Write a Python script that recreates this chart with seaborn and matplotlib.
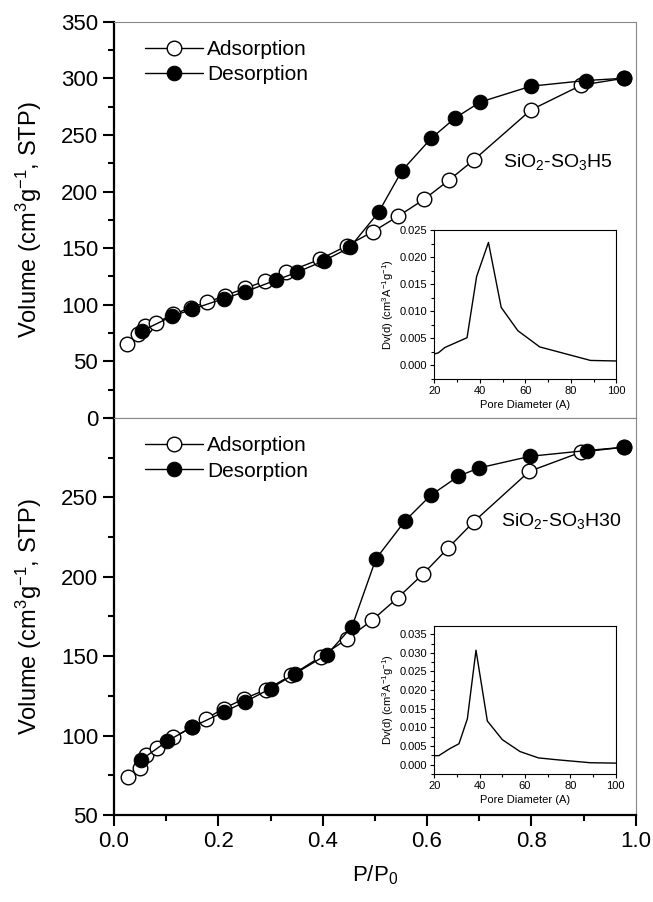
import numpy as np
import matplotlib
matplotlib.use("Agg")
import matplotlib.pyplot as plt
import seaborn as sns
from matplotlib.ticker import MultipleLocator

# %% data ---------------------------------------------------------------
# SiO2-SO3H5 isotherm
ads5_p = [0.024, 0.046, 0.059, 0.080, 0.114, 0.147, 0.178, 0.212, 0.252, 0.290,
          0.330, 0.394, 0.446, 0.496, 0.544, 0.594, 0.642, 0.690, 0.799, 0.896, 0.978]
ads5_v = [65, 74, 81, 84, 91.5, 97.5, 102, 108, 114.6, 121,
          128.5, 140, 152, 164.5, 178, 193, 210, 228, 272, 294, 300]
des5_p = [0.054, 0.112, 0.150, 0.210, 0.252, 0.310, 0.350, 0.402, 0.452,
          0.507, 0.552, 0.608, 0.654, 0.702, 0.799, 0.904, 0.978]
des5_v = [77, 90, 96, 105.4, 111.6, 121.7, 128.5, 138.8, 150.6,
          181.6, 218.5, 247, 265, 279, 293, 298, 300]

# SiO2-SO3H30 isotherm
ads30_p = [0.027, 0.050, 0.062, 0.082, 0.114, 0.150, 0.176, 0.210, 0.250, 0.292,
           0.340, 0.396, 0.446, 0.495, 0.544, 0.592, 0.640, 0.690, 0.796, 0.896, 0.978]
ads30_v = [73.8, 79.5, 87.5, 92, 99, 105.4, 110.6, 117, 123.3, 129,
           138, 149.6, 160.7, 172.7, 186.8, 201.6, 218, 234.8, 266.4, 278.6, 281.6]
des30_p = [0.052, 0.102, 0.150, 0.210, 0.251, 0.300, 0.347, 0.408, 0.456,
           0.502, 0.558, 0.607, 0.660, 0.699, 0.798, 0.906, 0.978]
des30_v = [84.7, 96.5, 105.4, 114.8, 121.2, 129.6, 139, 151, 168.5,
           211.3, 235.3, 251.3, 263.3, 268.5, 275.9, 279.5, 281.6]

# pore size distributions (insets)
pd5_d = [20, 21.8, 24.7, 34.4, 38.6, 43.8, 49.4, 56.7, 66.3, 77, 88.6, 100]
pd5_v = [0.0021, 0.0023, 0.0033, 0.0051, 0.0164, 0.0227, 0.0107, 0.0064, 0.0034,
         0.0022, 0.0009, 0.0008]
pd30_d = [20, 22, 26.9, 30.9, 34.6, 38.4, 43.4, 50, 57.8, 65.9, 74, 88.8, 100]
pd30_v = [0.0024, 0.0024, 0.0043, 0.0056, 0.0123, 0.0307, 0.0117, 0.0067, 0.0035,
          0.0018, 0.0013, 0.0005, 0.0004]

# %% style --------------------------------------------------------------
sns.set_style("ticks", {'axes.edgecolor': 'black', 'text.color': 'black',
                        'axes.labelcolor': 'black', 'xtick.color': 'black',
                        'ytick.color': 'black'})
plt.rcParams['font.family'] = ['Liberation Sans', 'DejaVu Sans']
plt.rcParams['mathtext.fontset'] = 'custom'
plt.rcParams['mathtext.rm'] = 'Liberation Sans'
plt.rcParams['mathtext.it'] = 'Liberation Sans'

fig = plt.figure(figsize=(6.53, 9.02), dpi=100)
ax_top = fig.add_axes([0.1746, 0.5366, 0.799, 0.4394])
ax_bot = fig.add_axes([0.1746, 0.0965, 0.799, 0.4401])


def draw_main(ax, ap, av, dp, dv):
    sns.lineplot(x=ap, y=av, ax=ax, color='black', lw=1, marker='o', markersize=10.5,
                 markerfacecolor='white', markeredgecolor='black', markeredgewidth=1,
                 sort=False, label='Adsorption')
    sns.lineplot(x=dp, y=dv, ax=ax, color='black', lw=1, marker='o', markersize=10.5,
                 markerfacecolor='black', markeredgecolor='black',
                 sort=False, label='Desorption')
    ax.set_xlim(0, 1.0)
    for s in ['top', 'right']:
        ax.spines[s].set_color('#888888')
        ax.spines[s].set_linewidth(0.8)
    ax.spines['left'].set_linewidth(1.6)
    ax.tick_params(axis='y', which='major', direction='out', length=8, width=1.5, labelsize=16)
    ax.tick_params(axis='y', which='minor', direction='out', length=4, width=1.5)
    ax.set_ylabel('Volume (cm$^3$g$^{-1}$, STP)', fontsize=17, labelpad=12)
    ax.legend(loc='upper left', bbox_to_anchor=(0.035, 0.985), frameon=False,
              fontsize=15, handlelength=2.8, handletextpad=0.2,
              labelspacing=0.3, borderaxespad=0.2)


draw_main(ax_top, ads5_p, ads5_v, des5_p, des5_v)
ax_top.set_ylim(0, 350)
ax_top.yaxis.set_major_locator(MultipleLocator(50))
ax_top.yaxis.set_minor_locator(MultipleLocator(25))
ax_top.set_xticks([])
ax_top.spines['bottom'].set_color('#888888')
ax_top.spines['bottom'].set_linewidth(0.8)
ax_top.text(0.85, 0.645, 'SiO$_2$-SO$_3$H5', transform=ax_top.transAxes,
            ha='center', va='center', fontsize=14)

draw_main(ax_bot, ads30_p, ads30_v, des30_p, des30_v)
ax_bot.set_ylim(50, 300)
ax_bot.set_yticks([50, 100, 150, 200, 250])
ax_bot.yaxis.set_minor_locator(MultipleLocator(25))
ax_bot.xaxis.set_major_locator(MultipleLocator(0.2))
ax_bot.xaxis.set_minor_locator(MultipleLocator(0.1))
ax_bot.xaxis.set_major_formatter(matplotlib.ticker.FormatStrFormatter('%.1f'))
ax_bot.spines['bottom'].set_linewidth(1.6)
ax_bot.tick_params(axis='x', which='major', direction='out', length=8, width=1.5, labelsize=16)
ax_bot.tick_params(axis='x', which='minor', direction='out', length=4, width=1.5)
ax_bot.set_xlabel('P/P$_0$', fontsize=16, labelpad=8)
ax_bot.text(0.857, 0.74, 'SiO$_2$-SO$_3$H30', transform=ax_bot.transAxes,
            ha='center', va='center', fontsize=14)


# %% insets -------------------------------------------------------------
def draw_inset(rect, d, v, ymax):
    ax = fig.add_axes(rect)
    sns.lineplot(x=d, y=v, ax=ax, color='black', lw=1, sort=False)
    ax.set_xlim(20, 100)
    ax.set_ylim(-0.0025, ymax)
    ax.xaxis.set_major_locator(MultipleLocator(20))
    ax.xaxis.set_minor_locator(MultipleLocator(10))
    ax.yaxis.set_major_locator(MultipleLocator(0.005))
    ax.yaxis.set_minor_locator(MultipleLocator(0.0025))
    ax.yaxis.set_major_formatter(matplotlib.ticker.FormatStrFormatter('%.3f'))
    ax.tick_params(which='major', direction='out', length=3, width=0.8, labelsize=8, pad=2)
    ax.tick_params(which='minor', direction='out', length=2, width=0.8)
    for s in ax.spines.values():
        s.set_linewidth(0.8)
    ax.set_xlabel('Pore Diameter (A)', fontsize=8, labelpad=3)
    ax.set_ylabel('Dv(d) (cm$^3$A$^{-1}$g$^{-1}$)', fontsize=8, labelpad=3)
    return ax


draw_inset([0.665, 0.580, 0.279, 0.165], pd5_d, pd5_v, 0.025)
draw_inset([0.665, 0.142, 0.278, 0.164], pd30_d, pd30_v, 0.0372)

fig.savefig('out.png', dpi=100)
